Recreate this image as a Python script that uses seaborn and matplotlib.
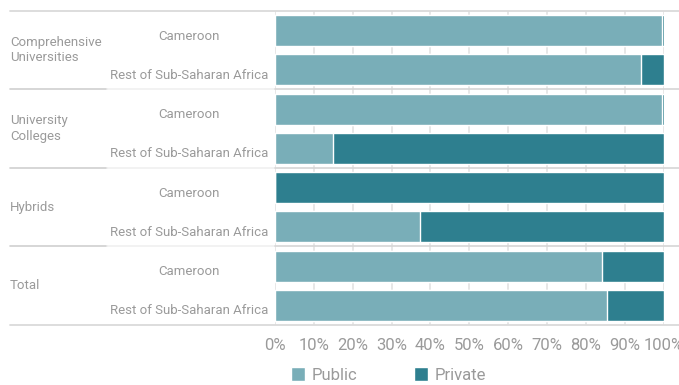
import seaborn as sns
import matplotlib.pyplot as plt
import matplotlib.transforms as mtransforms
from matplotlib.patches import Patch
import pandas as pd

sns.set_style("white")
plt.rcParams['font.family'] = ['Roboto', 'DejaVu Sans']

groups = ["Comprehensive\nUniversities", "University\nColleges", "Hybrids", "Total"]
regions = ["Cameroon", "Rest of Sub-Saharan Africa"]
public = [99.6, 94.2, 99.6, 15.0, 0.0, 37.3, 84.2, 85.5]
private = [0.4, 5.8, 0.4, 85.0, 100.0, 62.7, 15.8, 14.5]
x_ticks = [0, 10, 20, 30, 40, 50, 60, 70, 80, 90, 100]

PUBLIC_C = "#79aeb8"
PRIVATE_C = "#2e7f8f"
TEXT_C = "#9a9a9a"

rows = [str(i) for i in range(len(public))]
df = pd.DataFrame({"row": rows, "public": public,
                   "total": [a + b for a, b in zip(public, private)]})

fig = plt.figure(figsize=(6.79, 3.85), dpi=100)
ax = fig.add_axes([275 / 679, 1 - 325 / 385, 388.7 / 679, 314 / 385])

sns.barplot(data=df, y="row", x="total", orient="h", color=PRIVATE_C,
            width=0.79, saturation=1, ax=ax, zorder=2)
sns.barplot(data=df, y="row", x="public", orient="h", color=PUBLIC_C,
            width=0.79, saturation=1, ax=ax, zorder=3)

ax.set_xlim(0, 100)
ax.set_ylim(7.5, -0.5)
ax.set_xlabel("")
ax.set_ylabel("")
for s in ax.spines.values():
    s.set_visible(False)

ax.set_xticks(x_ticks)
ax.set_xticklabels([f"{t}%" for t in x_ticks])
ax.set_xticks([t + 5 for t in x_ticks[:-1]], minor=True)
ax.tick_params(axis="x", which="major", length=4, color="#d6d6d6", width=1,
               labelsize=12, labelcolor=TEXT_C, pad=5)
ax.tick_params(axis="x", which="minor", length=2, color="#d6d6d6", width=1)
ax.xaxis.grid(True, color="#e3e3e3", linewidth=1.2, zorder=0)
ax.set_axisbelow(True)

ax.set_yticks(range(len(rows)))
ax.set_yticklabels(regions * len(groups), ha="center")
ax.tick_params(axis="y", length=0, pad=62, labelsize=9.5, labelcolor=TEXT_C)
# labels sit a little below the bar centre in the original
shift = mtransforms.ScaledTranslation(0, -4 / 100, fig.dpi_scale_trans)
for lab in ax.get_yticklabels():
    lab.set_transform(lab.get_transform() + shift)

tr = ax.get_yaxis_transform()
x_left = (10 - 275) / 388.7
x_mid = (107 - 275) / 388.7
x_right = (679 - 275) / 388.7
for i, y in enumerate([-0.5, 1.5, 3.5, 5.5, 7.5]):
    if i in (0, 4):
        ax.plot([x_left, x_right], [y, y], transform=tr, color="#dadada",
                lw=1.3, clip_on=False, zorder=4)
    else:
        ax.plot([x_left, x_mid], [y, y], transform=tr, color="#cfcfcf",
                lw=1.2, clip_on=False, zorder=4)
        ax.plot([x_mid, 0], [y, y], transform=tr, color="#f0f0f0",
                lw=1.2, clip_on=False, zorder=4)
        ax.plot([0, x_right], [y, y], transform=tr, color="#d6d6d6",
                lw=1.2, clip_on=False, zorder=4)

for i, g in enumerate(groups):
    ax.text(x_left, 2 * i + 0.5, g, transform=tr, ha="left", va="center",
            fontsize=9.5, color=TEXT_C, linespacing=1.25)

handles = [Patch(facecolor=PUBLIC_C, label="Public"),
           Patch(facecolor=PRIVATE_C, label="Private")]
fig.legend(handles=handles, loc="center left", ncol=2, frameon=False,
           bbox_to_anchor=(276 / 679, 1 - 375 / 385), fontsize=12,
           handlelength=0.85, handleheight=0.85, handletextpad=0.4,
           columnspacing=3.4, labelcolor=TEXT_C)

fig.savefig("out.png", dpi=100)
